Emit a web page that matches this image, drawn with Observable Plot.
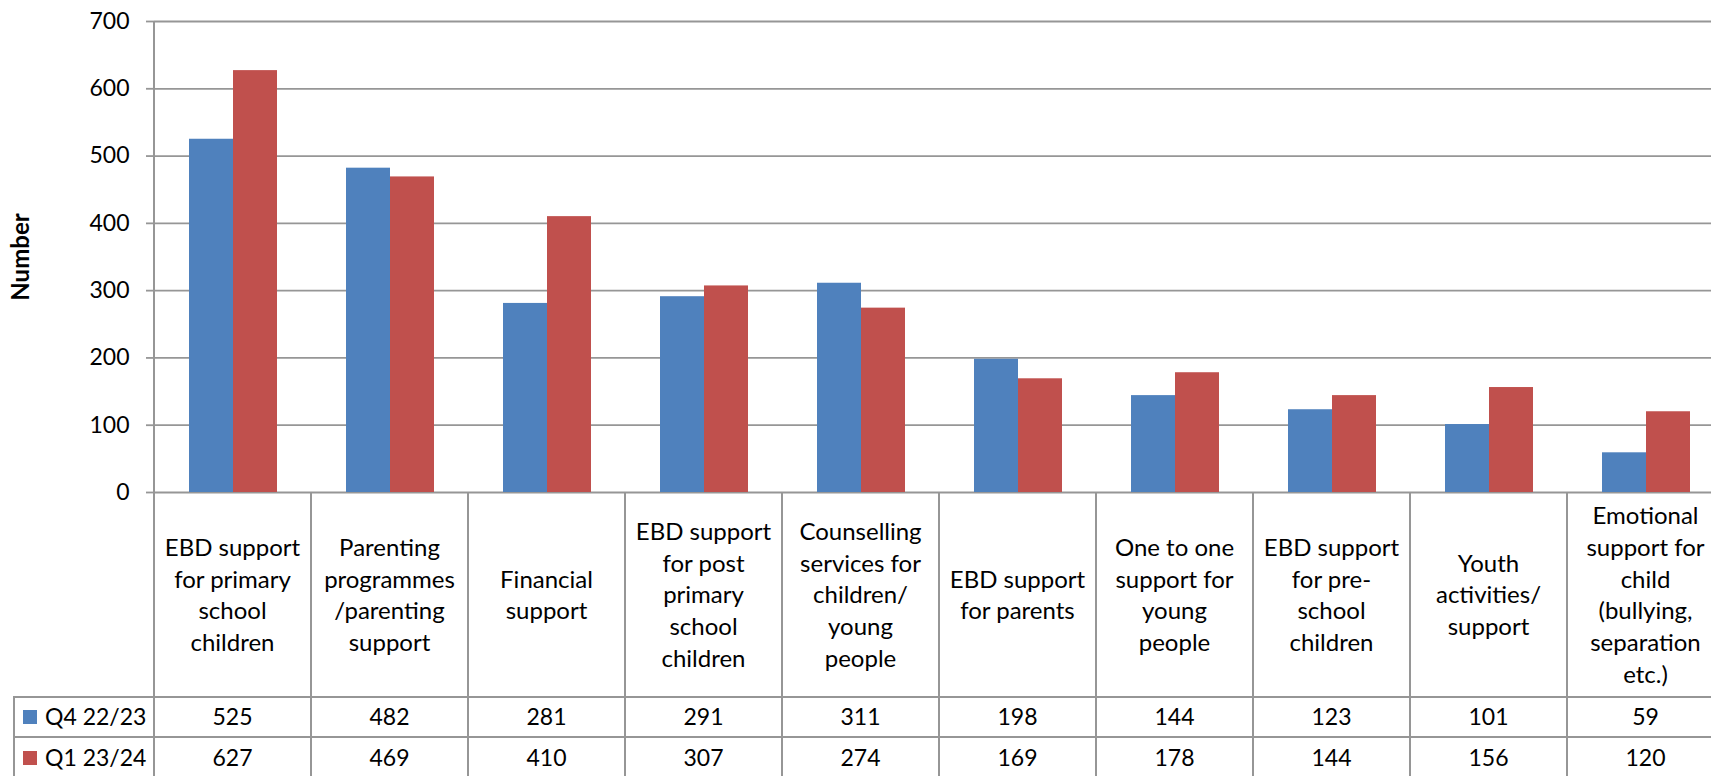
<!DOCTYPE html>
<html>
<head>
<meta charset="utf-8">
<script src="https://cdn.jsdelivr.net/npm/d3@7"></script>
<script src="https://cdn.jsdelivr.net/npm/@observablehq/plot@0.6"></script>
<style>
  body { margin: 0; background: #fff; }
  #wrap { position: relative; width: 1711px; height: 776px; overflow: hidden; font-family: Lato, "Open Sans", sans-serif; background: #fff; }
  .cell { position: absolute; box-sizing: border-box; display: flex; align-items: center; justify-content: center;
          text-align: center; font-size: 23px; color: #000; line-height: 31.7px; white-space: pre-line; }
  .head { font-size: 24px; }
  .legend { justify-content: flex-start; }
  .sw { display: inline-block; width: 14px; height: 14px; margin: 0 8px 0 9px; }
</style>
</head>
<body>
<div id="wrap"></div>
<script>
// ---- data ----
const categories = [
  "EBD support\nfor primary\nschool\nchildren",
  "Parenting\nprogrammes\n/parenting\nsupport",
  "Financial\nsupport",
  "EBD support\nfor post\nprimary\nschool\nchildren",
  "Counselling\nservices for\nchildren/\nyoung\npeople",
  "EBD support\nfor parents",
  "One to one\nsupport for\nyoung\npeople",
  "EBD support\nfor pre-\nschool\nchildren",
  "Youth\nactivities/\nsupport",
  "Emotional\nsupport for\nchild\n(bullying,\nseparation\netc.)"
];
const seriesNames = ["Q4 22/23", "Q1 23/24"];
const q4Values = [525, 482, 281, 291, 311, 198, 144, 123, 101, 59];
const q1Values = [627, 469, 410, 307, 274, 169, 178, 144, 156, 120];
const yTicks = [0, 100, 200, 300, 400, 500, 600, 700];
const seriesColors = ["#4F81BD", "#C0504D"];
const yLabel = "Number";

const seriesValues = [q4Values, q1Values];
const data = categories.flatMap((c, i) =>
  seriesNames.map((s, k) => ({category: c, series: s, value: seriesValues[k][i]})));

const gridColor = "#969696";

const chart = Plot.plot({
  width: 1711,
  height: 512,
  marginTop: 21,
  marginBottom: 20,
  marginLeft: 153,
  marginRight: -13,
  style: {fontFamily: "Lato, 'Open Sans', sans-serif", fontSize: "23px", color: "#000", background: "transparent"},
  fx: {domain: categories, padding: 0, axis: null},
  x: {domain: seriesNames, paddingInner: 0, paddingOuter: 0.757, axis: null},
  y: {domain: [0, 700]},
  color: {domain: seriesNames, range: seriesColors},
  marks: [
    Plot.ruleY(yTicks, {stroke: gridColor, strokeWidth: 1.8}),
    Plot.barY(data, {fx: "category", x: "series", y: "value", fill: "series"}),
    Plot.axisY({ticks: yTicks, tickSize: 8, tickPadding: 17, stroke: gridColor, strokeWidth: 1.8,
                label: yLabel, labelAnchor: "center", labelArrow: "none", labelOffset: 143})
  ]
});

const wrap = document.getElementById("wrap");
chart.style.position = "absolute";
chart.style.left = "0px";
chart.style.top = "0px";
wrap.appendChild(chart);

// bold axis title
d3.select(chart).selectAll("[aria-label='y-axis label'] text").attr("font-weight", "bold").attr("font-size", "24px");

// ---- data table below the chart, aligned with Plot's scales ----
const fx = chart.scale("fx");
const yS = chart.scale("y");
const y0 = yS.apply(0);
const yTop = yS.apply(700);
const bw = fx.bandwidth;
const xs = categories.map(c => fx.apply(c));
const xRight = xs[xs.length - 1] + bw;
const headH = 204.7, rowH = 40.6, tableLeft = 14;
const rowsTop = y0 + headH;

function line(x, y, w, h) {
  const d = document.createElement("div");
  d.style.cssText = `position:absolute;left:${x}px;top:${y}px;width:${w}px;height:${h}px;background:${gridColor}`;
  wrap.appendChild(d);
}
function cell(x, y, w, h, text, cls) {
  const d = document.createElement("div");
  d.className = "cell" + (cls ? " " + cls : "");
  d.style.left = x + "px"; d.style.top = y + "px"; d.style.width = w + "px"; d.style.height = h + "px";
  if (typeof text === "string" || typeof text === "number") d.textContent = text; else d.appendChild(text);
  wrap.appendChild(d);
}

// axis line
line(xs[0] - 1, yTop, 2, y0 - yTop);
// vertical separators
xs.forEach(x => line(x - 1, y0, 2, 800 - y0));
line(xRight - 1, y0, 2, 800 - y0);
// horizontal lines
for (let r = 0; r <= 2; r++) line(tableLeft - 1, rowsTop + r * rowH - 1, xRight - tableLeft + 1, 2);
line(tableLeft - 1, rowsTop, 2, 2 * rowH + 10);

// header labels
categories.forEach((c, i) => cell(xs[i], y0, bw, headH, c, "head"));
// rows
seriesNames.forEach((s, r) => {
  const frag = document.createElement("span");
  frag.style.display = "flex"; frag.style.alignItems = "center";
  const sw = document.createElement("span");
  sw.className = "sw"; sw.style.background = seriesColors[r];
  frag.appendChild(sw);
  frag.appendChild(document.createTextNode(s));
  cell(tableLeft, rowsTop + r * rowH, xs[0] - tableLeft, rowH, frag, "legend");
  seriesValues[r].forEach((v, i) => cell(xs[i], rowsTop + r * rowH, bw, rowH, String(v)));
});
</script>
</body>
</html>
